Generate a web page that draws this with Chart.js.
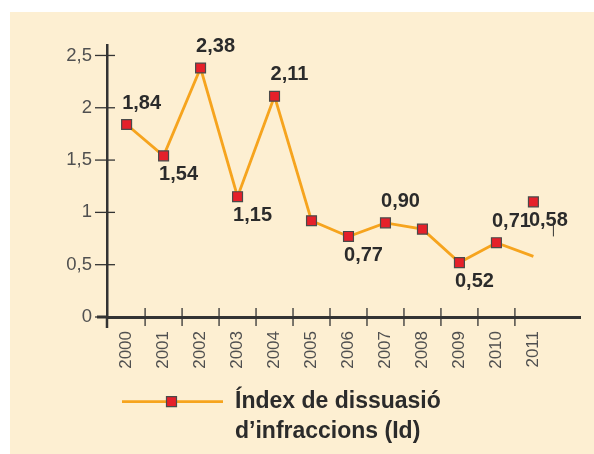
<!DOCTYPE html>
<html>
<head>
<meta charset="utf-8">
<script src="https://cdn.jsdelivr.net/npm/chart.js@4/dist/chart.umd.min.js"></script>
<style>
  html, body { margin: 0; padding: 0; background: #ffffff; }
  #wrap { position: absolute; left: 0; top: 0; width: 594px; height: 454px; }
</style>
</head>
<body>
<div id="wrap"><canvas id="c" width="594" height="454"></canvas></div>
<script>
// ---- data ----
const years = ['2000','2001','2002','2003','2004','2005','2006','2007','2008','2009','2010','2011'];
const indexValues = [1.84, 1.54, 2.38, 1.15, 2.11, 0.92, 0.77, 0.90, 0.84, 0.52, 0.71, 0.58];
const markerShown = [true, true, true, true, true, true, true, true, true, true, true, false];
const labelSide = ['above','below','above','below','above',null,'below','above',null,'below','above','below'];
const strayMarkerIndex = [11];
const strayMarkerValue = [1.10];
const yTickValues = [0, 0.5, 1, 1.5, 2, 2.5];
const legendLines = ['Índex de dissuasió', 'd\u2019infraccions (Id)'];

// ---- style ----
const FONT = "'Liberation Sans', Arial, Helvetica, sans-serif";
const CREAM = '#fdefd2';
const AXIS = '#333333';
const LINE = '#f6a41e';
const MARK_FILL = '#e5202a';
const MARK_EDGE = '#4a4a4a';
const TEXT = '#2b2b2b';
const TICKTEXT = '#505050';

const fmt = v => {
  const s = (Math.round(v * 100) / 100).toString();
  return s.replace('.', ',');
};
const fmt2 = v => v.toFixed(2).replace('.', ',');

const backgroundPlugin = {
  id: 'bg',
  beforeDraw(chart) {
    const ctx = chart.ctx;
    ctx.save();
    ctx.fillStyle = CREAM;
    ctx.fillRect(10, 12, chart.width - 10, chart.height - 12);
    ctx.restore();
  }
};

const axisMarksPlugin = {
  id: 'axisMarks',
  beforeDatasetsDraw(chart) {
    const ctx = chart.ctx;
    const xs = chart.scales.x, ys = chart.scales.y;
    const ca = chart.chartArea;
    const y0 = ys.getPixelForValue(0);
    ctx.save();
    ctx.strokeStyle = AXIS;
    ctx.lineWidth = 3;
    ctx.beginPath();
    ctx.moveTo(ca.left - 10, y0); ctx.lineTo(ca.left, y0);
    ctx.stroke();
    ctx.lineWidth = 2.5;
    ctx.beginPath();
    ctx.moveTo(ca.left, y0); ctx.lineTo(ca.left, y0 + 11);
    ctx.stroke();
    ctx.lineWidth = 1.3;
    yTickValues.forEach(v => {
      const p = ys.getPixelForValue(v);
      ctx.beginPath();
      ctx.moveTo(ca.left - 12, p); ctx.lineTo(ca.left + 8, p);
      ctx.stroke();
    });
    for (let i = 0; i < years.length - 1; i++) {
      const p = xs.getPixelForValue(i + 0.5);
      ctx.beginPath();
      ctx.moveTo(p, y0 - 9); ctx.lineTo(p, y0 + 9);
      ctx.stroke();
    }
    ctx.restore();
  }
};

const valueLabelPlugin = {
  id: 'valueLabels',
  afterDatasetsDraw(chart) {
    const ctx = chart.ctx;
    const main = chart.getDatasetMeta(0).data;
    const stray = chart.getDatasetMeta(1).data;
    ctx.save();
    ctx.font = 'bold 20px ' + FONT;
    ctx.fillStyle = TEXT;
    ctx.textAlign = 'center';
    ctx.textBaseline = 'alphabetic';
    labelSide.forEach((side, i) => {
      if (!side) return;
      let el = main[i];
      const si = strayMarkerIndex.indexOf(i);
      if (!markerShown[i] && si >= 0) el = stray[si];
      const x = el.x + 15;
      const y = side === 'above' ? el.y - 16 : el.y + 24.5;
      ctx.fillText(fmt2(indexValues[i]), x, y);
      if (!markerShown[i] && si >= 0) {
        ctx.strokeStyle = AXIS;
        ctx.lineWidth = 1;
        ctx.beginPath();
        ctx.moveTo(x + 5, y - 2); ctx.lineTo(x + 5, y + 10);
        ctx.stroke();
      }
    });
    ctx.restore();
  }
};

const legendPlugin = {
  id: 'customLegend',
  afterDraw(chart) {
    const ctx = chart.ctx;
    const ca = chart.chartArea;
    const x0 = ca.left + 15, x1 = x0 + 101, ly = 401.7;
    ctx.save();
    ctx.strokeStyle = LINE;
    ctx.lineWidth = 2.8;
    ctx.beginPath();
    ctx.moveTo(x0, ly); ctx.lineTo(x1, ly);
    ctx.stroke();
    const mx = (x0 + x1) / 2 - 1;
    ctx.fillStyle = MARK_FILL;
    ctx.strokeStyle = MARK_EDGE;
    ctx.lineWidth = 1.2;
    ctx.beginPath();
    ctx.rect(mx - 5, ly - 5, 10, 10);
    ctx.fill(); ctx.stroke();
    ctx.font = 'bold 23px ' + FONT;
    ctx.fillStyle = TEXT;
    ctx.textAlign = 'left';
    ctx.textBaseline = 'alphabetic';
    legendLines.forEach((t, k) => ctx.fillText(t, x1 + 12, 407.5 + k * 30));
    ctx.restore();
  }
};

const ctx = document.getElementById('c').getContext('2d');
new Chart(ctx, {
  type: 'line',
  data: {
    datasets: [{
      label: legendLines.join(' '),
      data: indexValues.map((v, i) => ({ x: i, y: v })),
      borderColor: LINE,
      borderWidth: 2.8,
      backgroundColor: MARK_FILL,
      pointStyle: 'rect',
      pointRadius: markerShown.map(s => s ? 7 : 0),
      pointBackgroundColor: MARK_FILL,
      pointBorderColor: MARK_EDGE,
      pointBorderWidth: 1.2,
      tension: 0,
      fill: false
    }, {
      label: 'stray',
      data: strayMarkerIndex.map((xi, k) => ({ x: xi, y: strayMarkerValue[k] })),
      showLine: false,
      pointStyle: 'rect',
      pointRadius: 7,
      pointBackgroundColor: MARK_FILL,
      pointBorderColor: MARK_EDGE,
      pointBorderWidth: 1.2
    }]
  },
  options: {
    responsive: false,
    animation: false,
    events: [],
    layout: { padding: { top: 45, left: 0, right: 14, bottom: 0 } },
    plugins: { legend: { display: false }, tooltip: { enabled: false } },
    scales: {
      x: {
        type: 'linear',
        min: -0.53,
        max: 12.26,
        afterBuildTicks: s => { s.ticks = years.map((_, i) => ({ value: i })); },
        afterFit: s => { s.height = 137; },
        grid: { display: false, drawTicks: false },
        border: { display: true, color: AXIS, width: 3 },
        ticks: {
          autoSkip: false,
          minRotation: 90,
          maxRotation: 90,
          padding: 14,
          color: TICKTEXT,
          font: { family: FONT, size: 17 },
          callback: v => years[v] ?? ''
        }
      },
      y: {
        type: 'linear',
        min: 0,
        max: 2.6,
        afterBuildTicks: s => { s.ticks = yTickValues.map(v => ({ value: v })); },
        afterFit: s => { s.width = 107; },
        grid: { display: false, drawTicks: false },
        border: { display: true, color: AXIS, width: 2.5 },
        ticks: {
          padding: 15,
          color: TICKTEXT,
          font: { family: FONT, size: 18.5 },
          callback: v => fmt(v)
        }
      }
    }
  },
  plugins: [backgroundPlugin, axisMarksPlugin, valueLabelPlugin, legendPlugin]
});
</script>
</body>
</html>
